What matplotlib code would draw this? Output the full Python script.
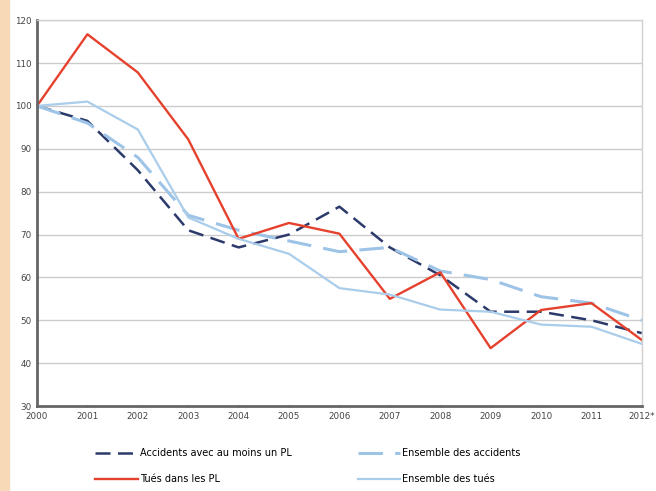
import matplotlib.pyplot as plt
from matplotlib.patches import Rectangle

years = list(range(2000, 2013))
year_labels = [str(y) for y in years[:-1]] + ["2012*"]

accidents_pl = [100, 96.5, 85, 71, 67, 70, 76.5, 67, 60.5, 52, 52, 50, 47]
ensemble_accidents = [100, 96, 88, 74.5, 71, 68.5, 66, 67, 61.5, 59.5, 55.5, 54, 50]
tues_pl = [100, 116.7, 107.8, 92.2, 69, 72.7, 70.2, 55, 61.2, 43.5, 52.4, 54, 45.4]
ensemble_tues = [100, 101, 94.5, 74, 69, 65.5, 57.5, 56, 52.5, 52, 49, 48.5, 44.5]

fig = plt.figure(figsize=(6.56, 4.91), dpi=100)
fig.patches.append(Rectangle((0, 0), 0.013, 1, transform=fig.transFigure,
                             color="#f7d9b8", zorder=0))
ax = fig.add_axes([0.0564, 0.173, 0.922, 0.786])

ax.plot(years, accidents_pl, color="#2b3a6b", lw=1.8, dashes=(6, 3),
        label="Accidents avec au moins un PL")
ax.plot(years, ensemble_accidents, color="#9dc3e6", lw=2.2, dashes=(8, 4),
        label="Ensemble des accidents")
ax.plot(years, tues_pl, color="#e5412d", lw=1.7, label="Tués dans les PL")
ax.plot(years, ensemble_tues, color="#a9cdea", lw=1.6, label="Ensemble des tués")

ax.set_xlim(2000, 2012)
ax.set_ylim(30, 120)
ax.set_yticks(range(30, 121, 10))
ax.set_xticks(years)
ax.set_xticklabels(year_labels)
ax.tick_params(labelsize=6.3, labelcolor="#444444", length=2, width=1,
               color="#555555", direction="inout", pad=3)
ax.grid(axis="y", color="#cccccc", lw=1)
ax.set_axisbelow(True)
for side in ("left", "bottom"):
    ax.spines[side].set_color("#666666")
    ax.spines[side].set_linewidth(2)
for side in ("top", "right"):
    ax.spines[side].set_color("#d0d0d0")
    ax.spines[side].set_linewidth(1)

handles, labels = ax.get_legend_handles_labels()
order = [0, 2, 1, 3]
fig.legend([handles[i] for i in order], [labels[i] for i in order],
           loc="upper left", bbox_to_anchor=(95 / 656, 1 - 448 / 491), ncol=2,
           frameon=False, fontsize=7, columnspacing=6.8, handlelength=4.4,
           labelspacing=1.65, handletextpad=0.2, borderpad=0, borderaxespad=0)

fig.savefig("out.png", dpi=100)
